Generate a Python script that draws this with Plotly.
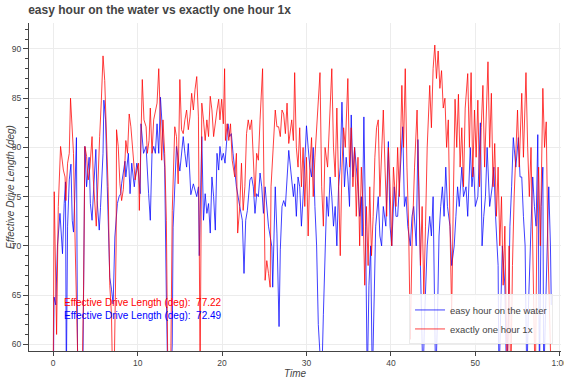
import plotly.graph_objects as go

# ---- data (time in minutes, values in degrees) ----
red_t = [0.0, 0.12, 0.4, 0.6, 0.87, 1.0, 1.2, 1.4, 1.5, 1.7, 1.9, 2.05, 2.25, 2.4, 2.6, 2.8, 3.0, 3.4, 3.6, 3.75,
         3.95, 4.15, 4.35, 4.6, 4.75, 5.1, 5.3, 5.5, 5.7, 5.9, 6.1, 6.3, 6.5, 6.7, 6.9, 7.0, 7.2, 7.45, 7.5, 7.7,
         7.9, 8.1, 8.3, 8.5, 8.6, 8.8, 9.0, 9.2, 9.3, 9.5, 9.7, 9.9, 10.1, 10.2, 10.4, 10.55, 10.75, 11.0, 11.15, 11.35,
         11.5, 11.7, 11.9, 12.3, 12.5, 12.7, 12.85, 13.0, 13.2, 13.4, 13.6, 13.9, 14.1, 14.4, 14.6, 14.8, 15.0, 15.2, 15.4, 15.6,
         15.8, 16.0, 16.2, 16.4, 16.6, 16.8, 17.0, 17.2, 17.3, 17.4, 17.5, 17.6, 17.8, 18.0, 18.2, 18.4, 18.6, 18.8, 19.0, 19.2,
         19.4, 19.6, 19.75, 19.95, 20.15, 20.3, 20.4, 20.6, 20.8, 21.0, 21.2, 21.5, 21.7, 21.85, 22.1, 22.3, 22.5, 22.7, 22.9, 23.1,
         23.3, 23.5, 23.7, 23.9, 24.1, 24.3, 24.5, 24.8, 25.1, 25.3, 25.5, 25.7, 25.8, 26.0, 26.3, 26.5, 26.7, 26.9, 27.1, 27.3,
         27.5, 27.7, 27.9, 28.25, 28.45,
         28.6, 28.8, 29.0, 29.2, 29.4, 29.6, 29.8, 30.0, 30.2, 30.4, 30.6, 30.8, 31.0, 31.3, 31.6, 31.8, 32.0, 32.2, 32.5, 32.8,
         33.0, 33.2, 33.4, 33.6, 33.8, 34.0, 34.2, 34.4, 34.6, 34.9, 35.1, 35.3, 35.5, 35.7, 35.9, 36.1, 36.3, 36.5, 36.7, 36.9,
         37.1, 37.3, 37.5, 37.7, 37.9, 38.1, 38.3, 38.5, 38.7, 38.9, 39.1, 39.3, 39.5, 39.7, 39.9, 40.1, 40.3, 40.6, 40.8, 41.0,
         41.3, 41.5, 41.7, 41.9, 42.1, 42.3, 42.5, 42.8, 43.1, 43.3, 43.5, 43.7, 43.9, 44.1, 44.3, 44.6, 44.8, 45.0, 45.2, 45.4,
         45.6, 45.8, 46.0, 46.2, 46.4, 46.6, 46.8, 47.0, 47.2, 47.4, 47.6, 47.8, 48.0, 48.2, 48.4, 48.6, 48.8, 49.1, 49.3, 49.5,
         49.7, 49.9, 50.1, 50.3, 50.5, 50.7, 50.9, 51.1, 51.3, 51.5, 51.7, 51.9, 52.1, 52.3, 52.5, 52.7, 52.9, 53.1, 53.3, 53.5,
         53.8, 54.0, 54.2, 54.4, 54.6, 54.8, 55.0, 55.2, 55.5, 55.7, 56.0, 56.2, 56.4, 56.6, 56.8, 57.1, 57.3, 57.5, 57.7, 58.0,
         58.2, 58.4, 58.6, 58.8, 59.0]
red_v = [58, 75.5, 61, 74.0, 80.1, 79.1, 77.7, 77.0, 74.6, 78.4, 79.4, 85.0, 81.1, 79.4, 70, 55, 55, 55, 66, 80.1,
         79.1, 76.7, 78.0, 81.1, 76.7, 72, 77.7, 81.1, 84.8, 89.3, 86.8, 81.1, 76.0, 66, 63, 58, 56, 70, 81.8, 80.1,
         76.3, 74.6, 75.7, 78.7, 80.7, 79.4, 83.4, 82.1, 81.1, 79.4, 76.7, 77.7, 78.4, 73.6, 80.1, 86.9, 82.8, 82.1, 79.4, 80.7,
         84.0, 79.4, 82.8, 84.5, 88.0, 82.8, 78.7, 82.8, 79.4, 72.6, 55, 56, 73.6, 82.1, 81.1, 76.3, 86.9, 81.8, 81.4, 82.8,
         83.8, 81.8, 83.1, 85.5, 83.8, 85.9, 87.2, 83.1, 65.5, 57, 70, 84.5, 82.8, 80.7, 82.8, 81.1, 85.2, 83.8, 81.1, 82.8,
         83.8, 84.9, 82.8, 84.9, 82.4, 88.0, 80.7, 82.4, 80.7, 82.4, 78.7, 77.0, 79.4, 71.3, 74.0, 78.4, 73.6, 76.0, 81.4, 82.8,
         81.8, 82.8, 79.4, 75.0, 79.4, 78.7, 82.8, 88.0, 66.5, 68.5, 67.2, 65.8, 76.0, 79.4, 83.8, 82.1, 82.1, 81.1, 83.8, 83.4,
         81.4, 84.5, 80.4, 82.8, 80.7,
         87.6, 80, 78, 82, 76, 80, 74, 79, 71, 78, 81, 75, 79, 83, 87.6, 76, 72, 80, 78, 84,
         88, 80, 77, 84, 76, 69, 78, 82, 80, 87, 78, 82, 76, 80, 73, 79, 70, 78, 74, 66,
         74, 68, 76, 69, 73, 79, 82, 82.8, 75, 80, 83.8, 78, 73, 80, 76, 70, 78, 74, 80, 75,
         86.3, 80, 88, 78, 72, 60.5, 70, 78, 83.8, 76, 68, 74, 65, 72, 80, 86.3, 82, 88, 90.4, 87,
         89.8, 86, 87.8, 84, 85, 80, 82.8, 72, 63, 75, 84.9, 80, 85.4, 78, 82, 76, 84, 87.5, 80, 87.6,
         77, 83.8, 79, 84.8, 76, 82, 86.3, 78, 84, 88.7, 80, 85.5, 76, 80.4, 73, 78, 70, 75, 66, 72,
         55, 70, 55, 68, 75, 80, 83.8, 78, 85.5, 79, 87.6, 80, 75, 80, 70, 55, 72, 78, 70, 86,
         80, 82.6, 70, 62, 56]

blue_t = [0.0, 0.1, 0.3, 0.5, 0.8, 1.1, 1.3, 1.45, 1.55, 1.7, 1.9, 2.1, 2.25, 2.4, 2.55, 2.75, 2.9, 3.2, 3.5, 3.75,
          3.95, 4.25, 4.4, 4.6, 4.8, 5.05, 5.2, 5.45, 5.6, 5.9, 6.0, 6.2, 6.4, 6.7, 6.9, 7.1, 7.3, 7.6, 7.8, 8.0,
          8.1, 8.5, 8.6, 8.9, 9.1, 9.3, 9.6, 9.9, 10.1, 10.3, 10.4, 10.7, 11.0, 11.15, 11.3, 11.5, 11.7, 11.9, 12.1, 12.3,
          12.5, 12.7, 13.0, 13.2, 13.4, 13.6, 13.9, 14.1, 14.2, 14.6, 15.0, 15.4, 15.6, 15.8, 16.0, 16.3, 16.6, 17.0, 17.2, 17.3,
          17.6, 17.8, 18.0, 18.2, 18.4, 18.6, 18.8, 19.0, 19.2, 19.4, 19.6, 19.75, 19.95, 20.15, 20.35, 20.7, 20.9, 21.1, 21.3, 21.7,
          22.1, 22.4, 22.6, 22.8, 23.0, 23.3, 23.5, 23.7, 23.9, 24.1, 24.3, 24.5, 24.7, 24.9, 25.1, 25.5, 25.9, 26.0, 26.3, 26.5,
          26.75, 26.9, 27.1, 27.3, 27.5, 27.7, 27.9, 28.45,
          28.6, 28.8, 29.0, 29.2, 29.4, 29.6, 29.8, 30.0, 30.2, 30.4, 30.6, 30.8, 31.0, 31.2, 31.4, 31.6, 31.8, 32.0, 32.2, 32.4,
          32.6, 32.8, 33.0, 33.2, 33.4, 33.6, 33.8, 34.0, 34.2, 34.5, 34.7, 34.9, 35.1, 35.3, 35.5, 35.7, 35.9, 36.1, 36.3, 36.5,
          36.6, 36.8, 37.0, 37.2, 37.4, 37.6, 37.8, 38.0, 38.2, 38.5, 38.7, 38.9, 39.1, 39.4, 39.7, 39.9, 40.1, 40.4, 40.6, 40.8,
          41.1, 41.4, 41.6, 41.8, 42.0, 42.3, 42.5, 42.7, 43.0, 43.2, 43.5, 43.8, 44.0, 44.3, 44.6, 44.8, 45.0, 45.2, 45.3, 45.5,
          45.7, 45.9, 46.1, 46.3, 46.5, 46.7, 47.0, 47.2, 47.5, 47.7, 47.9, 48.1, 48.4, 48.6, 48.9, 49.1, 49.4, 49.6, 49.8, 50.0,
          50.3, 50.6, 50.8, 51.0, 51.2, 51.4, 51.7, 52.0, 52.2, 52.4, 52.7, 52.8, 53.0, 53.2, 53.5, 53.7, 53.9, 54.1, 54.3, 54.5,
          54.8, 55.1, 55.3, 55.5, 55.7, 55.9, 56.1, 56.3, 56.6, 56.8, 57.0, 57.2, 57.4, 57.6, 57.8, 58.0, 58.1, 58.3, 58.5, 58.7,
          58.9, 59.0]
blue_v = [55, 64.8, 64.0, 70, 73.3, 69.2, 74.3, 76.5, 56, 72, 76.7, 78.3, 72.6, 71.4, 75, 81.0, 56, 55, 56, 80.1,
          76.0, 79.0, 74.3, 72.6, 76.0, 79.8, 74.6, 71.6, 73.9, 79.4, 84.8, 82.8, 76.0, 66.8, 65.6, 64.1, 70.9, 74.3, 75.0, 75.3,
          76.3, 78.6, 77.0, 79.4, 75.3, 78.4, 76.0, 78.4, 77.4, 75.3, 82.4, 79.4, 80.1, 77.0, 75.3, 72.6, 79.4, 80.1, 79.4, 82.4,
          79.4, 85.1, 81.1, 78, 64.8, 55, 55, 60, 71.9, 80.1, 77.6, 81.1, 79.4, 78.0, 80.4, 75.2, 76.3, 75.0, 76.0, 69,
          81.1, 72.6, 75.3, 73.3, 74.3, 71.3, 77.0, 75.0, 71.6, 79.4, 77.7, 80.1, 78.7, 79.4, 78.4, 82.4, 81.1, 81.4, 79.4, 76.0,
          74.0, 72.6, 67.2, 72.6, 73.6, 76.7, 77.0, 76.0, 73.3, 75.3, 75.0, 77.4, 76.0, 73.3, 76.0, 72, 69.9, 65.8, 76.0, 71.3,
          61.8, 69.6, 74.0, 74.6, 74.0, 77.0, 79.7, 75.0,
          76.3, 73, 77, 76, 72, 75, 79, 82.2, 80, 78, 77, 80, 74, 70, 62, 57, 56, 63, 70, 75,
          73, 77, 75, 72, 74, 70, 76, 78, 84.6, 76, 79, 77, 74, 83.3, 77, 80, 78, 76, 73, 75,
          71, 83.1, 72, 56, 66, 70, 56, 66, 72, 75, 71, 70, 74, 72, 80.6, 72, 70, 76, 73, 73,
          77, 82.1, 74, 75, 72, 70, 73, 74, 70, 80.8, 68, 56, 63, 70, 73, 71, 75, 64, 56, 62,
          71, 74, 76, 73, 78, 74, 72, 68, 70, 73, 76, 74, 78, 75, 76, 73, 80, 76, 78, 74,
          75, 82.5, 70, 73, 75, 80, 74, 76, 78, 73, 68, 56, 64, 70, 66, 56, 62, 72, 76, 81,
          78, 81, 77, 77, 73, 70, 56, 64, 72, 77, 74, 72, 81.3, 56, 74, 78, 56, 62, 70, 76,
          70, 64]

x_tickvals = [0, 10, 20, 30, 40, 50, 60]
x_ticktext = ["0", "10", "20", "30", "40", "50", "1:00"]
y_tickvals = [60, 65, 70, 75, 80, 85, 90]

series_names = ["easy hour on the water", "exactly one hour 1x"]
summary_labels = ["Effective Drive Length (deg):  77.22", "Effective Drive Length (deg):  72.49"]

FONT = "Liberation Sans, Arial, Helvetica, sans-serif"
TXT = "#444444"

fig = go.Figure()
fig.add_trace(go.Scatter(x=blue_t, y=blue_v, mode="lines", name=series_names[0],
                         line=dict(color="rgba(0,0,255,0.75)", width=1)))
fig.add_trace(go.Scatter(x=red_t, y=red_v, mode="lines", name=series_names[1],
                         line=dict(color="rgba(255,0,0,0.75)", width=1)))

# summary texts
fig.add_annotation(x=0, y=0, xref="paper", yref="paper", xshift=33, yshift=41,
                   text=summary_labels[0], showarrow=False, xanchor="left", yanchor="bottom",
                   font=dict(family=FONT, size=10, color="red"))
fig.add_annotation(x=0, y=0, xref="paper", yref="paper", xshift=33, yshift=28,
                   text=summary_labels[1], showarrow=False, xanchor="left", yanchor="bottom",
                   font=dict(family=FONT, size=10, color="blue"))

# axis titles
fig.add_annotation(x=0.5, y=0, xref="paper", yref="paper", yshift=-22, xanchor="center", yanchor="middle",
                   text="<i>Time</i>", showarrow=False, font=dict(family=FONT, size=10, color=TXT))
fig.add_annotation(x=0, y=0.5, xref="paper", yref="paper", xshift=-19, xanchor="center", yanchor="middle",
                   text="<i>Effective Drive Length (deg)</i>", textangle=-90, showarrow=False,
                   font=dict(family=FONT, size=10, color=TXT))

fig.update_layout(
    width=564, height=380,
    margin=dict(l=29, r=3, t=23, b=29, autoexpand=False),
    paper_bgcolor="white", plot_bgcolor="white",
    font=dict(family=FONT, size=9, color=TXT),
    title=dict(text="<b>easy hour on the water vs exactly one hour 1x</b>", x=0.05, xref="container",
               xanchor="left", y=0.985, yref="container", yanchor="top",
               font=dict(family=FONT, size=12, color=TXT), automargin=False),
    showlegend=True,
    legend=dict(x=0.985, y=0.02, xanchor="right", yanchor="bottom",
                bgcolor="rgba(255,255,255,0.85)", bordercolor="#ebebeb", borderwidth=1,
                font=dict(family=FONT, size=9.5, color=TXT), itemwidth=30,
                tracegroupgap=0),
)
fig.update_xaxes(range=[-2.87, 60.15], tickvals=x_tickvals, ticktext=x_ticktext, automargin=False,
                 ticklabeloverflow="allow",
                 showgrid=True, gridcolor="#ececec", gridwidth=1, zeroline=False,
                 showline=True, linecolor="#444", linewidth=1, ticks="outside", ticklen=4,
                 tickcolor="#444", tickfont=dict(size=8.5, color=TXT))
fig.update_yaxes(range=[59.32, 92.64], tickvals=y_tickvals, automargin=False,
                 showgrid=True, gridcolor="#ececec", gridwidth=1, zeroline=False,
                 showline=True, linecolor="#444", linewidth=1, ticks="outside", ticklen=5,
                 tickcolor="#444", tickfont=dict(size=8.5, color=TXT),
                 minor=dict(dtick=1, ticks="outside", ticklen=3, tickcolor="#444", showgrid=False))

fig.write_html("out.html", config=dict(displayModeBar=False),
               post_script="document.body.style.margin='0';document.body.style.overflow='hidden';")
